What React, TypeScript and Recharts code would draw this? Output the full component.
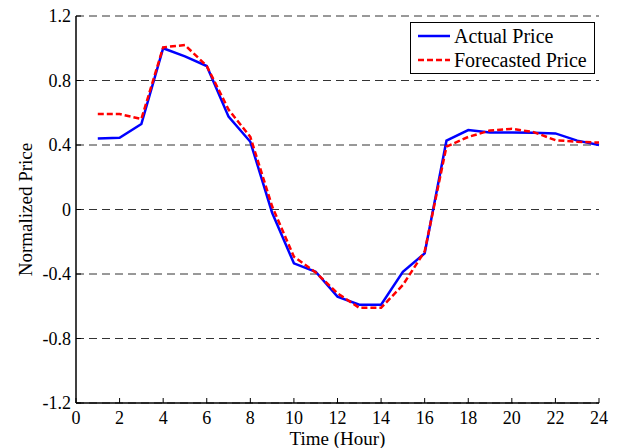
import { LineChart, Line, XAxis, YAxis, CartesianGrid, Legend } from 'recharts';

const SERIF = "'Liberation Serif', 'Times New Roman', serif";

const hours = [1, 2, 3, 4, 5, 6, 7, 8, 9, 10, 11, 12, 13, 14, 15, 16, 17, 18, 19, 20, 21, 22, 23, 24];
const actual = [0.44, 0.445, 0.53, 1.0, 0.95, 0.89, 0.576, 0.42, -0.02, -0.334, -0.386, -0.54, -0.59, -0.59, -0.386, -0.272, 0.427, 0.493, 0.478, 0.478, 0.476, 0.472, 0.427, 0.4];
const forecast = [0.592, 0.592, 0.561, 1.006, 1.02, 0.89, 0.62, 0.45, 0.02, -0.293, -0.39, -0.52, -0.61, -0.61, -0.468, -0.26, 0.39, 0.45, 0.49, 0.5, 0.48, 0.43, 0.42, 0.415];

const xTicks = [0, 2, 4, 6, 8, 10, 12, 14, 16, 18, 20, 22, 24];
const yTicks = [-1.2, -0.8, -0.4, 0, 0.4, 0.8, 1.2];

const data = hours.map((h, i) => ({ hour: h, actual: actual[i], forecast: forecast[i] }));

const tickStyle = { fill: '#000', fontSize: 18, fontFamily: SERIF };

const LegendBox = (props: any) => {
  const items = props.payload || [];
  return (
    <div style={{ border: '1.5px solid #000', background: '#fff', width: 185, height: 52, boxSizing: 'border-box', fontFamily: SERIF, fontSize: 20, color: '#000' }}>
      {items.map((it: any, i: number) => (
        <div key={i} style={{ display: 'flex', alignItems: 'center', height: 24, paddingLeft: 6, marginTop: i === 0 ? 1 : 0 }}>
          <svg width={34} height={10} style={{ marginRight: 3 }}>
            <line x1={1} y1={5} x2={33} y2={5} stroke={it.color} strokeWidth={2.5} strokeDasharray={it.payload?.strokeDasharray} />
          </svg>
          <span>{it.value}</span>
        </div>
      ))}
    </div>
  );
};

export default function App() {
  return (
    <div style={{ position: 'absolute', left: 0, top: 0, background: '#fff' }}>
      <LineChart width={634} height={448} data={data} margin={{ top: 16, right: 35, bottom: 0, left: 0 }}>
        <CartesianGrid vertical={false} stroke="#333" strokeDasharray="8 5" />
        <XAxis
          dataKey="hour"
          type="number"
          domain={[0, 24]}
          ticks={xTicks}
          height={45}
          tick={tickStyle}
          tickSize={-5}
          tickMargin={13}
          axisLine={{ stroke: '#000', strokeWidth: 1.5 }}
          tickLine={{ stroke: '#000' }}
          label={{ value: 'Time (Hour)', position: 'insideBottom', offset: 3, fill: '#000', fontSize: 19, fontFamily: SERIF }}
        />
        <XAxis
          xAxisId="top"
          orientation="top"
          type="number"
          domain={[0, 24]}
          ticks={xTicks}
          height={0}
          tick={false}
          tickSize={-5}
          axisLine={false}
          tickLine={{ stroke: '#000' }}
        />
        <YAxis
          type="number"
          domain={[-1.2, 1.2]}
          ticks={yTicks}
          width={76}
          tick={tickStyle}
          tickSize={-5}
          tickMargin={10}
          tickFormatter={(v: number) => (v === 0 ? '0' : v.toFixed(1))}
          axisLine={{ stroke: '#000', strokeWidth: 1.5 }}
          tickLine={{ stroke: '#000' }}
          label={{
            content: (p: any) => {
              const vb = p.viewBox;
              const cx = vb.x + 25;
              const cy = vb.y + vb.height / 2;
              return (
                <text x={cx} y={cy} transform={`rotate(-90 ${cx} ${cy})`} textAnchor="middle" dominantBaseline="central" fill="#000" fontSize={19} fontFamily={SERIF}>
                  Normalized Price
                </text>
              );
            },
          }}
        />
        <YAxis
          yAxisId="right"
          orientation="right"
          type="number"
          domain={[-1.2, 1.2]}
          ticks={yTicks}
          width={0}
          tick={false}
          tickSize={-5}
          axisLine={{ stroke: '#000', strokeWidth: 1.5 }}
          tickLine={{ stroke: '#000' }}
        />
        <Line type="linear" dataKey="actual" name="Actual Price" stroke="#0000ff" strokeWidth={2.5} dot={false} isAnimationActive={false} />
        <Line type="linear" dataKey="forecast" name="Forecasted Price" stroke="#ff0000" strokeWidth={2.5} strokeDasharray="6 3" dot={false} isAnimationActive={false} />
        <Legend
          layout="vertical"
          align="center"
          verticalAlign="middle"
          content={<LegendBox />}
          wrapperStyle={{ position: 'absolute', left: 410, top: 22, width: 185, height: 52 }}
        />
      </LineChart>
    </div>
  );
}
